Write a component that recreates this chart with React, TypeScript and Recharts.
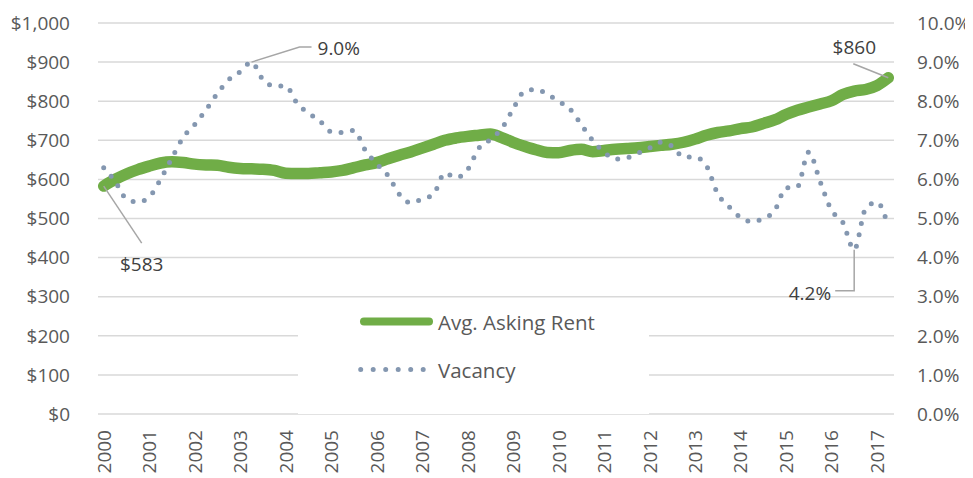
import React from 'react';
import { LineChart, Line, XAxis, YAxis, CartesianGrid } from 'recharts';

const years = ['2000', '2001', '2002', '2003', '2004', '2005', '2006', '2007', '2008', '2009', '2010', '2011', '2012', '2013', '2014', '2015', '2016', '2017'];
const quarterNames = ['Q1', 'Q2', 'Q3', 'Q4'];
const quarterLabels = years.flatMap((y) => quarterNames.map((q) => `${y} ${q}`)).slice(0, 70);

const seriesNames = ['Avg. Asking Rent', 'Vacancy'];

const rent = [
  583, 600, 614, 625, 634, 642, 645, 643, 639, 637,
  636, 631, 628, 627, 626, 623, 616, 615, 615, 617,
  619, 623, 630, 637, 643, 653, 662, 670, 680, 690,
  700, 706, 710, 713, 716, 707, 695, 685, 676, 669,
  668, 674, 677, 671, 674, 677, 679, 681, 684, 687,
  690, 695, 703, 713, 720, 724, 730, 734, 743, 752,
  766, 777, 785, 793, 801, 817, 826, 830, 840, 860,
];

const vacancy = [
  6.3, 5.95, 5.5, 5.42, 5.55, 6.0, 6.55, 7.08, 7.4, 7.78,
  8.2, 8.55, 8.75, 9.0, 8.55, 8.39, 8.39, 7.95, 7.7, 7.5,
  7.22, 7.2, 7.25, 6.75, 6.4, 6.1, 5.62, 5.4, 5.5, 5.62,
  6.16, 6.05, 6.25, 6.8, 7.02, 7.3, 7.8, 8.25, 8.3, 8.18,
  8.0, 7.8, 7.4, 7.0, 6.7, 6.52, 6.55, 6.67, 6.8, 6.95,
  6.85, 6.57, 6.57, 6.35, 5.63, 5.3, 5.03, 4.92, 5.0, 5.2,
  5.78, 5.81, 6.7, 5.95, 5.21, 4.9, 4.2, 5.25, 5.42, 4.8,
];

const rentTicks = [0, 100, 200, 300, 400, 500, 600, 700, 800, 900, 1000];
const vacancyTicks = [0, 1, 2, 3, 4, 5, 6, 7, 8, 9, 10];

const data = quarterLabels.map((q, i) => ({ q, rent: rent[i], vacancy: vacancy[i] }));

const GREEN = '#70ad47';
const BLUE = '#8497b0';
const LEADER = '#a6a6a6';
const LABEL = '#404040';
const TICK = '#595959';
const FONT = '"Open Sans", sans-serif';
const FS = 19;
const LFS = 20.5;

const fmtMoney = (v: number) => `$${v.toLocaleString('en-US')}`;
const fmtPct = (v: number) => `${Number(v).toFixed(1)}%`;

const RentLabel = (p: any) => {
  const { x, y, index, value } = p;
  if (index === 0) {
    return (
      <g>
        <line x1={x} y1={y} x2={x + 38} y2={y + 57} stroke={LEADER} strokeWidth={1.5} />
        <text x={x + 38} y={y + 78} textAnchor="middle" dominantBaseline="central" fill={LABEL} fontSize={FS} fontFamily={FONT}>
          {fmtMoney(value)}
        </text>
      </g>
    );
  }
  if (index === rent.length - 1) {
    return (
      <g>
        <line x1={x} y1={y} x2={x - 35} y2={y - 14} stroke={LEADER} strokeWidth={1.5} />
        <text x={x - 34} y={y - 31} textAnchor="middle" dominantBaseline="central" fill={LABEL} fontSize={FS} fontFamily={FONT}>
          {fmtMoney(value)}
        </text>
      </g>
    );
  }
  return <g />;
};

const VacancyLabel = (p: any) => {
  const { x, y, index, value } = p;
  if (index === 13) {
    return (
      <g>
        <polyline points={`${x},${y} ${x + 48},${y - 15} ${x + 60},${y - 15}`} fill="none" stroke={LEADER} strokeWidth={1.5} />
        <text x={x + 66} y={y - 14} textAnchor="start" dominantBaseline="central" fill={LABEL} fontSize={FS} fontFamily={FONT}>
          {fmtPct(value)}
        </text>
      </g>
    );
  }
  if (index === 66) {
    return (
      <g>
        <polyline points={`${x},${y} ${x},${y + 41} ${x - 19},${y + 41}`} fill="none" stroke={LEADER} strokeWidth={1.5} />
        <text x={x - 23} y={y + 43} textAnchor="end" dominantBaseline="central" fill={LABEL} fontSize={FS} fontFamily={FONT}>
          {fmtPct(value)}
        </text>
      </g>
    );
  }
  return <g />;
};

const YearTick = (p: any) => {
  const { x, y, payload } = p;
  return (
    <text
      x={x}
      y={y}
      transform={`rotate(-90, ${x}, ${y})`}
      textAnchor="end"
      dominantBaseline="central"
      fill={TICK}
      fontSize={FS}
      fontFamily={FONT}
    >
      {String(payload.value).slice(0, 4)}
    </text>
  );
};

const Legend = () => (
  <div
    style={{
      position: 'absolute',
      left: 290,
      top: 289.5,
      width: 351,
      height: 116,
      background: '#ffffff',
    }}
  >
    <svg width={351} height={116} style={{ display: 'block' }}>
      <line x1={66} y1={23.5} x2={131} y2={23.5} stroke={GREEN} strokeWidth={8} strokeLinecap="round" />
      <text x={140} y={23.5} dominantBaseline="central" fill={TICK} fontSize={LFS} fontFamily={FONT}>
        {seriesNames[0]}
      </text>
      <line x1={62.7} y1={71.5} x2={127} y2={71.5} stroke={BLUE} strokeWidth={5} strokeLinecap="round" strokeDasharray="0 12.5" />
      <text x={140} y={71.5} dominantBaseline="central" fill={TICK} fontSize={LFS} fontFamily={FONT}>
        {seriesNames[1]}
      </text>
    </svg>
  </div>
);

export default function App() {
  return (
    <div style={{ position: 'relative', width: 965, height: 470, fontFamily: FONT }}>
      <LineChart width={965} height={470} data={data} margin={{ top: 15, right: 0, bottom: 0, left: 0 }}>
        <CartesianGrid yAxisId="left" vertical={false} stroke="#d9d9d9" strokeWidth={1.5} />
        <XAxis
          dataKey="q"
          interval={3}
          height={64}
          axisLine={false}
          tickLine={false}
          tickSize={0}
          tickMargin={16}
          padding={{ left: 5.7, right: 5.7 }}
          tick={<YearTick />}
        />
        <YAxis
          yAxisId="left"
          orientation="left"
          width={90}
          domain={[0, 1000]}
          ticks={rentTicks}
          tickFormatter={fmtMoney}
          axisLine={false}
          tickLine={false}
          tickSize={0}
          tickMargin={28}
          tick={{ fill: TICK, fontSize: FS, fontFamily: FONT }}
        />
        <YAxis
          yAxisId="right"
          orientation="right"
          width={79}
          domain={[0, 10]}
          ticks={vacancyTicks}
          tickFormatter={fmtPct}
          axisLine={false}
          tickLine={false}
          tickSize={0}
          tickMargin={23}
          tick={{ fill: TICK, fontSize: FS, fontFamily: FONT, textAnchor: 'start' }}
        />
        <Line
          yAxisId="left"
          dataKey="rent"
          name={seriesNames[0]}
          type="monotone"
          stroke={GREEN}
          strokeWidth={11.5}
          strokeLinecap="round"
          strokeLinejoin="round"
          dot={false}
          activeDot={false}
          isAnimationActive={false}
          label={RentLabel}
        />
        <Line
          yAxisId="right"
          dataKey="vacancy"
          name={seriesNames[1]}
          type="monotone"
          stroke={BLUE}
          strokeWidth={5}
          strokeLinecap="round"
          strokeDasharray="0 11.5"
          dot={false}
          activeDot={false}
          isAnimationActive={false}
          label={VacancyLabel}
        />
      </LineChart>
      <Legend />
    </div>
  );
}
